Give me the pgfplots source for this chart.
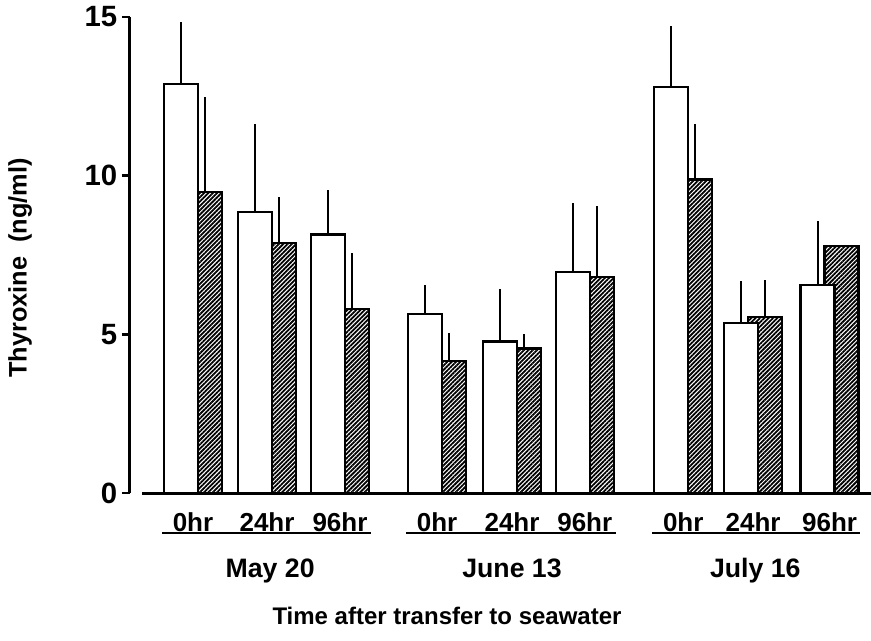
\documentclass[border=0pt]{standalone}
\usepackage{pgfplots}
\pgfplotsset{compat=1.18}
\usepackage{pgfplotstable}
\usepackage{fontspec}
\setmainfont{Liberation Sans}
\usetikzlibrary{patterns.meta}

\pgfplotstableread{
x     w     we   h    he
0     12.89 1.96 9.48 3.01
1.007 8.85  2.78 7.87 1.45
2.0   8.15  1.40 5.80 1.75
3.32  5.64  0.92 4.16 0.87
4.34  4.77  1.65 4.56 0.45
5.33  6.97  2.16 6.80 2.25
6.67  12.79 1.94 9.88 1.75
7.62  5.35  1.34 5.54 1.17
8.66  6.56  2.01 7.78 0
}\datatable

\begin{document}
\begin{tikzpicture}[font=\bfseries\fontsize{18}{21}\selectfont]
\begin{axis}[
  scale only axis, width=555.75pt, height=357pt,
  xmin=-0.857, xmax=9.224, ymin=0, ymax=15,
  clip=false,
  axis y line*=left, axis x line*=bottom,
  x axis line style={draw=none},
  y axis line style={line width=2.25pt, black},
  ytick={0,5,10,15},
  tick align=outside, major tick length=6pt,
  ytick style={line width=1.8pt, black},
  xtick style={draw=none},
  xtick={0,1.007,2.0,3.32,4.34,5.33,6.67,7.62,8.66},
  xticklabels={0hr,24hr,96hr,0hr,24hr,96hr,0hr,24hr,96hr},
  xticklabel style={anchor=base, yshift=-22.5pt, font=\bfseries\fontsize{19.5}{22}\selectfont},
  yticklabel style={font=\bfseries\fontsize{22}{25}\selectfont},
  /pgf/number format/assume math mode=true,
]
% hatched bars (behind)
\addplot[ybar, bar width=25.5pt, bar shift=9pt, draw=black, line width=1.8pt,
  pattern={Lines[angle=45,distance=2.3pt,line width=1.35pt]}]
  table[x=x, y=h]{\datatable};
% error bars of hatched bars
\addplot[draw=none, mark=none,
  error bars/.cd, y dir=plus, y explicit, error mark=none,
  error bar style={draw=black, line width=1.6pt}]
  table[x expr=\thisrow{x}+0.163, y=h, y error=he]{\datatable};
% white bars (front)
\addplot[ybar, bar width=25.5pt, bar shift=-9pt, draw=black, fill=white, line width=1.8pt]
  table[x=x, y=w]{\datatable};
% error bars of white bars
\addplot[draw=none, mark=none,
  error bars/.cd, y dir=plus, y explicit, error mark=none,
  error bar style={draw=black, line width=1.6pt}]
  table[x expr=\thisrow{x}-0.163, y=w, y error=we]{\datatable};

\draw[line width=2.25pt] (axis cs:-0.69,0) -- (axis cs:9.224,0);
\draw[line width=2.2pt] (axis cs:-0.42,-1.26) -- (axis cs:2.42,-1.26);
\draw[line width=2.2pt] (axis cs:2.90,-1.26) -- (axis cs:5.75,-1.26);
\draw[line width=2.2pt] (axis cs:6.25,-1.26) -- (axis cs:9.08,-1.26);

\node[anchor=base, font=\bfseries\fontsize{20}{23}\selectfont] at (axis cs:1.05,-2.647) {May 20};
\node[anchor=base, font=\bfseries\fontsize{20}{23}\selectfont] at (axis cs:4.34,-2.647) {June 13};
\node[anchor=base, font=\bfseries\fontsize{20}{23}\selectfont] at (axis cs:7.65,-2.647) {July 16};
\node[anchor=base] at (axis cs:3.456,-4.13) {Time after transfer to seawater};
\node[rotate=90, font=\bfseries\fontsize{19}{22}\selectfont] at (axis cs:-2.35,7.09) {Thyroxine\ \ (ng/ml)};
\coordinate (O) at (rel axis cs:0,0);
\end{axis}
\pgfresetboundingbox
\path ([xshift=-97.5pt,yshift=-110.25pt]O) rectangle ([xshift=555.75pt,yshift=369.75pt]O);
\end{tikzpicture}
\end{document}
